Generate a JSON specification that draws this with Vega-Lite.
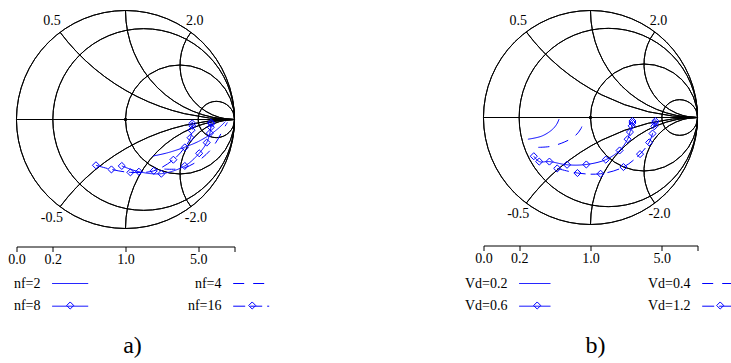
{
  "$schema": "https://vega.github.io/schema/vega-lite/v6.json",
  "background": "white",
  "padding": {"left": 7.5, "top": 7.5, "right": 0, "bottom": 0},
  "config": {"view": {"stroke": null}, "font": "Liberation Serif"},
  "datasets": {
    "grid": [
      {"u": 0, "v": 0, "r": 1, "t1": 0, "t2": 6.2832},
      {"u": 0.16667, "v": 0, "r": 0.83333, "t1": 0, "t2": 6.2832},
      {"u": 0.5, "v": 0, "r": 0.5, "t1": 0, "t2": 6.2832},
      {"u": 0.83333, "v": 0, "r": 0.16667, "t1": 0, "t2": 6.2832},
      {"u": 1, "v": 2, "r": 2, "t1": 3.14159, "t2": 4.06889},
      {"u": 1, "v": 1, "r": 1, "t1": 3.14159, "t2": 4.71239},
      {"u": 1, "v": 0.5, "r": 0.5, "t1": 3.14159, "t2": 5.35589},
      {"u": 1, "v": -2, "r": 2, "t1": -0.9273, "t2": 0},
      {"u": 1, "v": -1, "r": 1, "t1": -1.5708, "t2": 0},
      {"u": 1, "v": -0.5, "r": 0.5, "t1": -2.2143, "t2": 0}
    ],
    "hl": [{"u": -1, "u2": 1, "v": 0}],
    "dot": [{"u": 0, "v": 0}],
    "labs": [
      {"u": -0.675, "v": 0.905, "t": "0.5"},
      {"u": 0.635, "v": 0.905, "t": "2.0"},
      {"u": -0.675, "v": -0.9, "t": "-0.5"},
      {"u": 0.645, "v": -0.9, "t": "-2.0"}
    ],
    "a": [
      {"s": "nf=2", "u": 0.253, "v": -0.335},
      {"s": "nf=2", "u": 0.376, "v": -0.308},
      {"s": "nf=2", "u": 0.518, "v": -0.263},
      {"s": "nf=2", "u": 0.670, "v": -0.201},
      {"s": "nf=2", "u": 0.802, "v": -0.121},
      {"s": "nf=2", "u": 0.887, "v": -0.049},
      {"s": "nf=2", "u": 0.916, "v": -0.018},
      {"s": "nf=4", "u": 0.357, "v": -0.455},
      {"s": "nf=4", "u": 0.518, "v": -0.449},
      {"s": "nf=4", "u": 0.660, "v": -0.384},
      {"s": "nf=4", "u": 0.774, "v": -0.286},
      {"s": "nf=4", "u": 0.849, "v": -0.179},
      {"s": "nf=4", "u": 0.897, "v": -0.089},
      {"s": "nf=4", "u": 0.935, "v": -0.027},
      {"s": "nf=8", "u": -0.034, "v": -0.426},
      {"s": "nf=8", "u": 0.123, "v": -0.479},
      {"s": "nf=8", "u": 0.329, "v": -0.497},
      {"s": "nf=8", "u": 0.544, "v": -0.426},
      {"s": "nf=8", "u": 0.676, "v": -0.310},
      {"s": "nf=8", "u": 0.745, "v": -0.212},
      {"s": "nf=8", "u": 0.774, "v": -0.125},
      {"s": "nf=8", "u": 0.783, "v": -0.071},
      {"s": "nf=8", "u": 0.786, "v": -0.040},
      {"s": "nf=8", "u": 0.786, "v": -0.027},
      {"s": "nf=16", "u": -0.271, "v": -0.420},
      {"s": "nf=16", "u": -0.129, "v": -0.458},
      {"s": "nf=16", "u": 0.045, "v": -0.485},
      {"s": "nf=16", "u": 0.259, "v": -0.471},
      {"s": "nf=16", "u": 0.439, "v": -0.369},
      {"s": "nf=16", "u": 0.544, "v": -0.256},
      {"s": "nf=16", "u": 0.597, "v": -0.167},
      {"s": "nf=16", "u": 0.606, "v": -0.098},
      {"s": "nf=16", "u": 0.613, "v": -0.058},
      {"s": "nf=16", "u": 0.613, "v": -0.036}
    ],
    "b": [
      {"s": "Vd=0.2", "u": -0.585, "v": -0.203},
      {"s": "Vd=0.2", "u": -0.456, "v": -0.174},
      {"s": "Vd=0.2", "u": -0.359, "v": -0.114},
      {"s": "Vd=0.2", "u": -0.314, "v": -0.060},
      {"s": "Vd=0.2", "u": -0.294, "v": -0.015},
      {"s": "Vd=0.4", "u": -0.488, "v": -0.279},
      {"s": "Vd=0.4", "u": -0.372, "v": -0.270},
      {"s": "Vd=0.4", "u": -0.246, "v": -0.230},
      {"s": "Vd=0.4", "u": -0.149, "v": -0.176},
      {"s": "Vd=0.4", "u": -0.090, "v": -0.105},
      {"s": "Vd=0.4", "u": -0.061, "v": -0.024},
      {"s": "Vd=0.6", "u": -0.530, "v": -0.362},
      {"s": "Vd=0.6", "u": -0.479, "v": -0.412},
      {"s": "Vd=0.6", "u": -0.384, "v": -0.412},
      {"s": "Vd=0.6", "u": -0.219, "v": -0.442},
      {"s": "Vd=0.6", "u": -0.039, "v": -0.439},
      {"s": "Vd=0.6", "u": 0.143, "v": -0.394},
      {"s": "Vd=0.6", "u": 0.272, "v": -0.308},
      {"s": "Vd=0.6", "u": 0.347, "v": -0.203},
      {"s": "Vd=0.6", "u": 0.369, "v": -0.136},
      {"s": "Vd=0.6", "u": 0.385, "v": -0.078},
      {"s": "Vd=0.6", "u": 0.392, "v": -0.051},
      {"s": "Vd=0.6", "u": 0.392, "v": -0.033},
      {"s": "Vd=1.2", "u": -0.311, "v": -0.476},
      {"s": "Vd=1.2", "u": -0.122, "v": -0.519},
      {"s": "Vd=1.2", "u": 0.094, "v": -0.526},
      {"s": "Vd=1.2", "u": 0.308, "v": -0.463},
      {"s": "Vd=1.2", "u": 0.463, "v": -0.342},
      {"s": "Vd=1.2", "u": 0.548, "v": -0.233},
      {"s": "Vd=1.2", "u": 0.580, "v": -0.150},
      {"s": "Vd=1.2", "u": 0.596, "v": -0.082},
      {"s": "Vd=1.2", "u": 0.602, "v": -0.051},
      {"s": "Vd=1.2", "u": 0.606, "v": -0.033}
    ]
  },
  "spacing": 249,
  "bounds": "flush",
  "resolve": {
    "scale": {"x": "independent", "y": "independent", "radius": "independent", "strokeDash": "independent", "color": "independent"},
    "axis": {"x": "independent", "y": "independent"},
    "legend": {"strokeDash": "independent", "color": "independent"}
  },
  "hconcat": [
    {
      "width": 218,
      "height": 218,
      "title": {"text": "a)", "orient": "bottom", "fontSize": 24, "font": "Liberation Serif", "fontWeight": "normal", "color": "black", "offset": 20, "anchor": "middle", "frame": "group", "dx": 7},
      "encoding": {
        "x": {"field": "u", "type": "quantitative", "scale": {"domain": [-1, 1], "nice": false, "zero": false},
          "axis": {"values": [-1, -0.66667, 0, 0.66667, 1], "labelExpr": "datum.value < -0.9 ? '0.0' : datum.value < -0.5 ? '0.2' : abs(datum.value) < 0.1 ? '1.0' : datum.value < 0.9 ? '5.0' : ''", "title": null, "grid": false, "offset": 18, "tickSize": 5, "tickColor": "black", "domainColor": "black", "labelColor": "black", "labelFont": "Liberation Serif", "labelFontSize": 14, "labelPadding": 1, "labelFlush": false, "labelOverlap": false, "domainWidth": 1, "tickWidth": 1}},
        "y": {"field": "v", "type": "quantitative", "scale": {"domain": [-1, 1], "nice": false, "zero": false}, "axis": null}
      },
      "layer": [
        {"data": {"name": "grid"}, "mark": {"type": "arc", "filled": false, "stroke": "black", "strokeWidth": 1},
          "encoding": {
            "radius": {"field": "r", "type": "quantitative", "scale": {"type": "linear", "domain": [0, 1], "range": [0, 109], "zero": true}},
            "radius2": {"field": "r"},
            "theta": {"field": "t1", "type": "quantitative", "scale": null, "stack": null},
            "theta2": {"field": "t2"}
          }},
        {"data": {"name": "hl"}, "mark": {"type": "rule", "color": "black", "strokeWidth": 1}, "encoding": {"x2": {"field": "u2"}}},
        {"data": {"name": "dot"}, "mark": {"type": "point", "filled": true, "color": "black", "size": 12, "shape": "circle", "opacity": 1}},
        {"data": {"name": "labs"}, "mark": {"type": "text", "font": "Liberation Serif", "fontSize": 14, "color": "black"}, "encoding": {"text": {"field": "t", "type": "nominal"}}},
        {"data": {"name": "a"}, "mark": {"type": "line", "color": "blue", "strokeWidth": 1, "interpolate": "catmull-rom"},
          "encoding": {
            "order": {"value": null},
            "strokeDash": {"field": "s", "type": "nominal",
              "scale": {"domain": ["nf=2", "nf=4", "nf=8", "nf=16"], "range": [[1, 0], [11, 9], [1, 0], [12, 5]]},
              "legend": {"title": null, "orient": "none", "legendX": 10, "legendY": 266, "direction": "horizontal", "columns": 2, "columnPadding": 97, "rowPadding": 8.7, "padding": 0,
                "labelFont": "Liberation Serif", "labelFontSize": 14, "labelColor": "black", "labelAlign": "right", "labelOffset": 0,
                "symbolType": "M18.7,0L54.7,0", "symbolSize": 4, "symbolOffset": 0, "symbolStrokeWidth": 1, "symbolStrokeColor": "blue", "symbolFillColor": "transparent", "symbolOpacity": 1}}
          }},
        {"data": {"name": "a"}, "transform": [{"filter": {"field": "s", "oneOf": ["nf=8", "nf=16"]}}],
          "mark": {"type": "point", "shape": "diamond", "filled": false, "size": 50, "strokeWidth": 1, "opacity": 1},
          "encoding": {
            "color": {"field": "s", "type": "nominal",
              "scale": {"domain": ["nf=8", "nf=16"], "range": ["blue", "blue"]},
              "legend": {"title": null, "orient": "none", "legendX": 10, "legendY": 288, "direction": "horizontal", "columns": 2, "columnPadding": 131, "rowPadding": 8.7, "padding": 0,
                "labelExpr": "''", "labelFont": "Liberation Serif", "labelFontSize": 14, "labelAlign": "right", "labelOffset": 0,
                "symbolType": "diamond", "symbolSize": 50, "symbolOffset": 36.7, "symbolStrokeWidth": 1, "symbolFillColor": "white", "symbolOpacity": 1}}
          }}
      ]
    },
    {
      "width": 214,
      "height": 214,
      "title": {"text": "b)", "orient": "bottom", "fontSize": 24, "font": "Liberation Serif", "fontWeight": "normal", "color": "black", "offset": 20, "anchor": "middle", "frame": "group", "dx": 5},
      "encoding": {
        "x": {"field": "u", "type": "quantitative", "scale": {"domain": [-1, 1], "nice": false, "zero": false},
          "axis": {"values": [-1, -0.66667, 0, 0.66667, 1], "labelExpr": "datum.value < -0.9 ? '0.0' : datum.value < -0.5 ? '0.2' : abs(datum.value) < 0.1 ? '1.0' : datum.value < 0.9 ? '5.0' : ''", "title": null, "grid": false, "offset": 21, "tickSize": 5, "tickColor": "black", "domainColor": "black", "labelColor": "black", "labelFont": "Liberation Serif", "labelFontSize": 14, "labelPadding": 1, "labelFlush": false, "labelOverlap": false, "domainWidth": 1, "tickWidth": 1}},
        "y": {"field": "v", "type": "quantitative", "scale": {"domain": [-1, 1], "nice": false, "zero": false}, "axis": null}
      },
      "layer": [
        {"data": {"name": "grid"}, "mark": {"type": "arc", "filled": false, "stroke": "black", "strokeWidth": 1},
          "encoding": {
            "radius": {"field": "r", "type": "quantitative", "scale": {"type": "linear", "domain": [0, 1], "range": [0, 107], "zero": true}},
            "radius2": {"field": "r"},
            "theta": {"field": "t1", "type": "quantitative", "scale": null, "stack": null},
            "theta2": {"field": "t2"}
          }},
        {"data": {"name": "hl"}, "mark": {"type": "rule", "color": "black", "strokeWidth": 1}, "encoding": {"x2": {"field": "u2"}}},
        {"data": {"name": "dot"}, "mark": {"type": "point", "filled": true, "color": "black", "size": 12, "shape": "circle", "opacity": 1}},
        {"data": {"name": "labs"}, "mark": {"type": "text", "font": "Liberation Serif", "fontSize": 14, "color": "black"}, "encoding": {"text": {"field": "t", "type": "nominal"}}},
        {"data": {"name": "b"}, "mark": {"type": "line", "color": "blue", "strokeWidth": 1, "interpolate": "catmull-rom"},
          "encoding": {
            "order": {"value": null},
            "strokeDash": {"field": "s", "type": "nominal",
              "scale": {"domain": ["Vd=0.2", "Vd=0.4", "Vd=0.6", "Vd=1.2"], "range": [[1, 0], [11, 9], [1, 0], [12, 5]]},
              "legend": {"title": null, "orient": "none", "legendX": 10, "legendY": 266, "direction": "horizontal", "columns": 2, "columnPadding": 95, "rowPadding": 8.7, "padding": 0,
                "labelFont": "Liberation Serif", "labelFontSize": 14, "labelColor": "black", "labelAlign": "right", "labelOffset": 0,
                "symbolType": "M18.7,0L50,0", "symbolSize": 4, "symbolOffset": 0, "symbolStrokeWidth": 1, "symbolStrokeColor": "blue", "symbolFillColor": "transparent", "symbolOpacity": 1}}
          }},
        {"data": {"name": "b"}, "transform": [{"filter": {"field": "s", "oneOf": ["Vd=0.6", "Vd=1.2"]}}],
          "mark": {"type": "point", "shape": "diamond", "filled": false, "size": 50, "strokeWidth": 1, "opacity": 1},
          "encoding": {
            "color": {"field": "s", "type": "nominal",
              "scale": {"domain": ["Vd=0.6", "Vd=1.2"], "range": ["blue", "blue"]},
              "legend": {"title": null, "orient": "none", "legendX": 10, "legendY": 288, "direction": "horizontal", "columns": 2, "columnPadding": 132, "rowPadding": 8.7, "padding": 0,
                "labelExpr": "''", "labelFont": "Liberation Serif", "labelFontSize": 14, "labelAlign": "right", "labelOffset": 0,
                "symbolType": "diamond", "symbolSize": 50, "symbolOffset": 36.7, "symbolStrokeWidth": 1, "symbolFillColor": "white", "symbolOpacity": 1}}
          }}
      ]
    }
  ]
}
